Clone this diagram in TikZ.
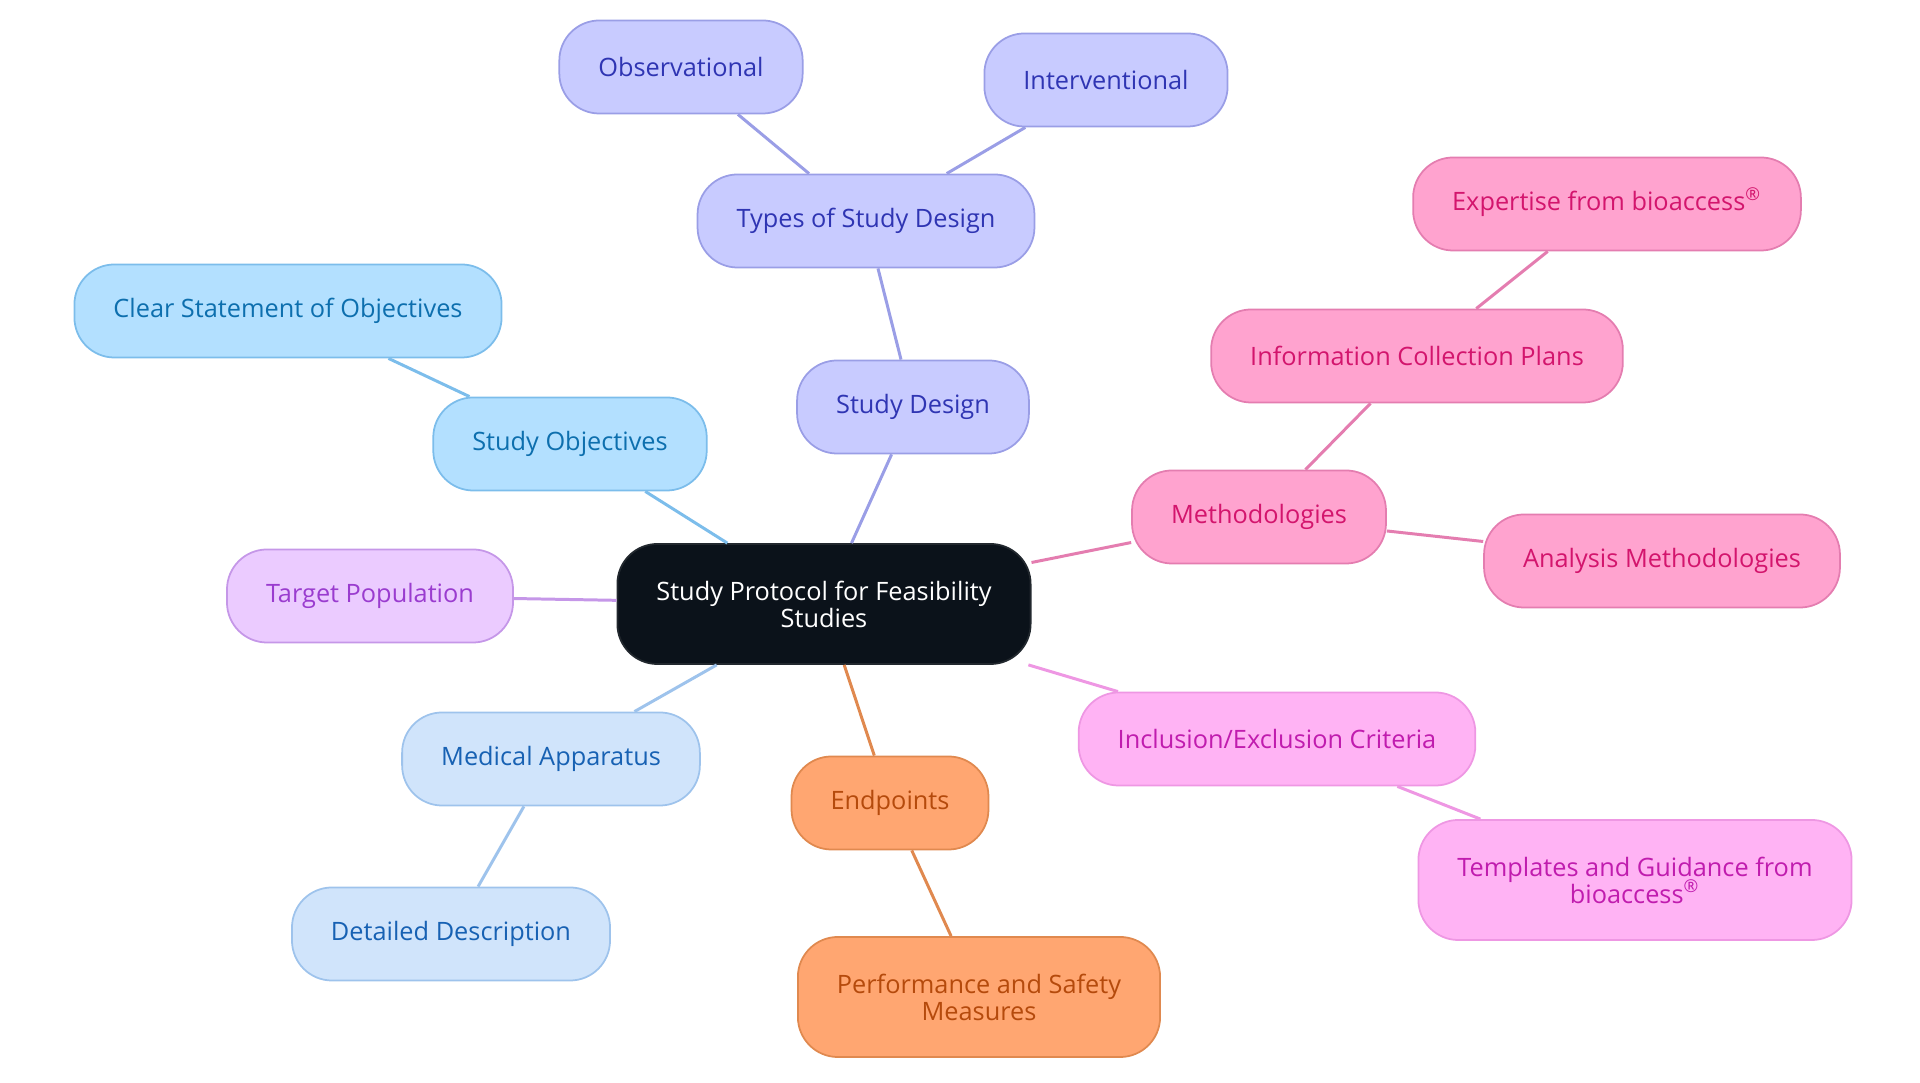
\documentclass[tikz,border=0pt]{standalone}
\usepackage{fontspec}
\setmainfont{Open Sans}
\usepackage{tikz}
\usetikzlibrary{positioning}
\usepackage{xcolor}
\definecolor{rootfill}{HTML}{0B121A}
\definecolor{objfill}{HTML}{B3E0FF}\definecolor{objline}{HTML}{7CBDEB}\definecolor{objtext}{HTML}{0D6FAE}
\definecolor{desfill}{HTML}{C8CBFF}\definecolor{desline}{HTML}{9A9EE6}\definecolor{destext}{HTML}{2F35B3}
\definecolor{metfill}{HTML}{FFA3CF}\definecolor{metline}{HTML}{E47DB0}\definecolor{mettext}{HTML}{D3156D}
\definecolor{popfill}{HTML}{EBCBFF}\definecolor{popline}{HTML}{C597E8}\definecolor{poptext}{HTML}{9A3CCF}
\definecolor{appfill}{HTML}{D0E4FB}\definecolor{appline}{HTML}{9EC3EC}\definecolor{apptext}{HTML}{1761B3}
\definecolor{endfill}{HTML}{FFA671}\definecolor{endline}{HTML}{E0894F}\definecolor{endtext}{HTML}{B54A0C}
\definecolor{incfill}{HTML}{FFB3F4}\definecolor{incline}{HTML}{EE97E3}\definecolor{inctext}{HTML}{C01CAE}
\newcommand{\regmark}{\smash{\textsuperscript{®}}}

\begin{document}
\begin{tikzpicture}[x=0.01cm, y=-0.01cm,
  font=\fontsize{7.2}{7.7}\selectfont,
  topic/.style={rectangle, rounded corners=0.4cm, line width=0.5pt, align=center,
    minimum height=0.93cm, inner xsep=0.39cm},
  rootbox/.style={topic, fill=rootfill, draw=rootfill!80!gray, text=white,
    minimum height=1.2cm, inner xsep=0.3cm},
  objbox/.style={topic, fill=objfill, draw=objline, text=objtext},
  desbox/.style={topic, fill=desfill, draw=desline, text=destext},
  metbox/.style={topic, fill=metfill, draw=metline, text=mettext},
  popbox/.style={topic, fill=popfill, draw=popline, text=poptext},
  appbox/.style={topic, fill=appfill, draw=appline, text=apptext},
  endbox/.style={topic, fill=endfill, draw=endline, text=endtext},
  incbox/.style={topic, fill=incfill, draw=incline, text=inctext},
  link/.style={line width=0.85pt}]

\useasboundingbox (0,0) rectangle (1920,1083);

% root
\node[rootbox, minimum width=4.13cm] (root) at (824,604) {Study Protocol for Feasibility\\Studies};

% objectives
\node[objbox] (obj) at (570,444) {Study Objectives};
\node[objbox] (clear) at (288,311) {Clear Statement of Objectives};

% study design
\node[desbox] (design) at (913,407) {Study Design};
\node[desbox] (types) at (866,221) {Types of Study Design};
\node[desbox] (obs) at (681,67) {Observational};
\node[desbox] (inter) at (1106,80) {Interventional};

% methodologies
\node[metbox] (meth) at (1259,517) {Methodologies};
\node[metbox] (info) at (1417,356) {Information Collection Plans};
\node[metbox] (expert) at (1607,204) {Expertise from bioaccess\regmark};
\node[metbox] (analysis) at (1662,561) {Analysis Methodologies};

% population
\node[popbox] (pop) at (370,596) {Target Population};

% apparatus
\node[appbox] (app) at (551,759) {Medical Apparatus};
\node[appbox] (detail) at (451,934) {Detailed Description};

% endpoints
\node[endbox] (endp) at (890,803) {Endpoints};
\node[endbox, minimum height=1.2cm] (perf) at (979,997) {Performance and Safety\\Measures};

% criteria
\node[incbox] (incl) at (1277,739) {Inclusion/Exclusion Criteria};
\node[incbox, minimum height=1.2cm] (templ) at (1635,880) {Templates and Guidance from\\bioaccess\regmark};

% links
\draw[link, objline] (root) -- (obj);
\draw[link, objline] (obj) -- (clear);
\draw[link, desline] (root) -- (design);
\draw[link, desline] (design) -- (types);
\draw[link, desline] (types) -- (obs);
\draw[link, desline] (types) -- (inter);
\draw[link, metline] (root) -- (meth);
\draw[link, metline] (meth) -- (info);
\draw[link, metline] (info) -- (expert);
\draw[link, metline] (meth) -- (analysis);
\draw[link, popline] (root) -- (pop);
\draw[link, appline] (root) -- (app);
\draw[link, appline] (app) -- (detail);
\draw[link, endline] (root) -- (endp);
\draw[link, endline] (endp) -- (perf);
\draw[link, incline] (root) -- (incl);
\draw[link, incline] (incl) -- (templ);
\end{tikzpicture}
\end{document}
